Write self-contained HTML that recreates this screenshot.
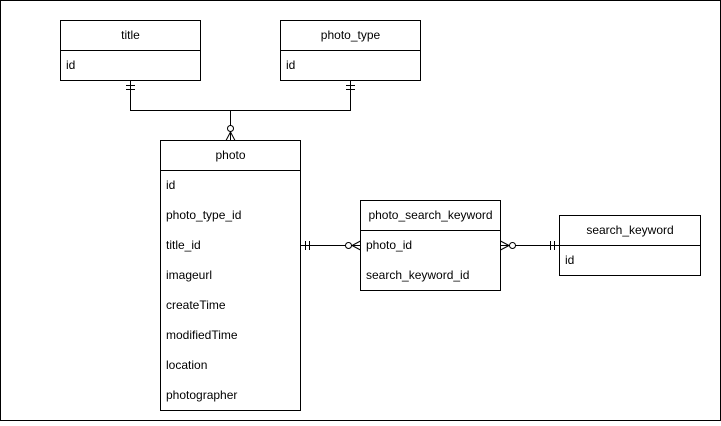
<!DOCTYPE html>
<html><head><style>
body{margin:0;background:#fff}
svg text{font-family:"Liberation Sans",Helvetica,sans-serif;font-size:12px;fill:#000}
</style></head><body>
<svg width="721" height="421" viewBox="0 0 721 421" xmlns="http://www.w3.org/2000/svg">
<rect x="0.5" y="0.5" width="720" height="420" fill="#fff" stroke="#000"/>
<g fill="#fff" stroke="#000" stroke-width="1">
<rect x="60.5" y="20.5" width="140" height="60"/><line x1="60.5" y1="50.5" x2="200.5" y2="50.5"/>
<rect x="280.5" y="20.5" width="140" height="60"/><line x1="280.5" y1="50.5" x2="420.5" y2="50.5"/>
<rect x="160.5" y="140.5" width="140" height="270"/><line x1="160.5" y1="170.5" x2="300.5" y2="170.5"/>
<rect x="360.5" y="200.5" width="140" height="90"/><line x1="360.5" y1="230.5" x2="500.5" y2="230.5"/>
<rect x="559.5" y="215.5" width="141" height="60"/><line x1="559.5" y1="245.5" x2="700.5" y2="245.5"/>
</g>
<g fill="none" stroke="#000" stroke-width="1">
<path d="M130.5 80.5V110.5H350.5V80.5"/>
<path d="M230.5 110.5V140.5"/>
<path d="M126 85.5h9M126 89.5h9M346 85.5h9M346 89.5h9"/>
<circle cx="230.5" cy="128.5" r="3" fill="#fff"/>
<path d="M226 140.5L230.5 132L235 140.5"/>
<path d="M300.5 245.5H360.5M500.5 245.5H559.5"/>
<path d="M305.5 241v9M309.5 241v9M550.5 241v9M554.5 241v9"/>
<circle cx="348.5" cy="245.5" r="3" fill="#fff"/>
<path d="M360.5 241L352 245.5L360.5 250"/>
<circle cx="512.5" cy="245.5" r="3" fill="#fff"/>
<path d="M500.5 241L509 245.5L500.5 250"/>
</g>
<g text-anchor="middle">
<text x="130.5" y="39">title</text>
<text x="350.5" y="39">photo_type</text>
<text x="230.5" y="159">photo</text>
<text x="430.5" y="219">photo_search_keyword</text>
<text x="630" y="234">search_keyword</text>
</g>
<text x="66" y="69">id</text>
<text x="286" y="69">id</text>
<text x="166" y="189">id</text>
<text x="166" y="219">photo_type_id</text>
<text x="166" y="249">title_id</text>
<text x="166" y="279">imageurl</text>
<text x="166" y="309">createTime</text>
<text x="166" y="339">modifiedTime</text>
<text x="166" y="369">location</text>
<text x="166" y="399">photographer</text>
<text x="366" y="249">photo_id</text>
<text x="366" y="279">search_keyword_id</text>
<text x="565" y="264">id</text>
</svg>
</body></html>
